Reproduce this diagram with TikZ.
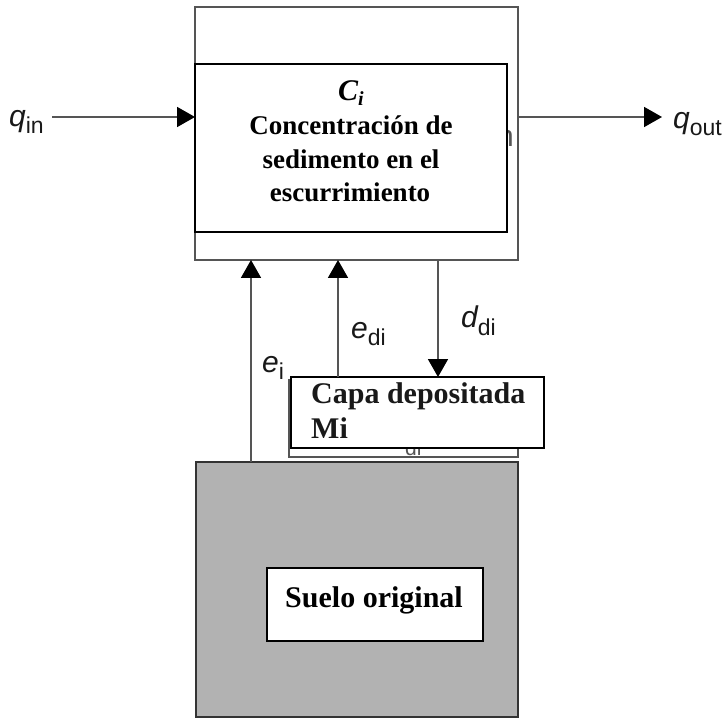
\documentclass[tikz,border=0pt]{standalone}
\usepackage{fontspec}
\setmainfont{Liberation Serif}
\setsansfont{Liberation Sans}
\usetikzlibrary{arrows.meta}
\definecolor{soilgray}{HTML}{B2B2B2}
\definecolor{linegray}{HTML}{555555}
\newcommand{\lbl}[2]{{\sffamily\fontsize{30}{30}\selectfont\itshape #1}{\sffamily\fontsize{23}{23}\selectfont\raisebox{-7pt}{#2}}}
\newcommand{\boxtxt}{\bfseries\fontsize{27}{27}\selectfont}
\newcommand{\bigtxt}{\bfseries\fontsize{30}{30}\selectfont}
\tikzset{
  origbox/.style={draw=linegray, line width=1.8pt, fill=white, inner sep=0pt, outer sep=0pt, anchor=north west},
  overbox/.style={draw=black, line width=1.8pt, fill=white, inner sep=0pt, outer sep=0pt, anchor=north west},
  soilbox/.style={draw=black!80, line width=1.8pt, fill=soilgray, inner sep=0pt, outer sep=0pt, anchor=north west},
  flow/.style={draw=linegray, line width=1.8pt, -{Triangle[length=18pt,width=20pt,color=black]}},
  lab/.style={inner sep=0pt, anchor=base west, text=black!90},
  txt/.style={inner sep=0pt, anchor=base},
}
\begin{document}
\begin{tikzpicture}[x=1pt,y=-1pt]
\useasboundingbox (0,0) rectangle (723,719);

% upper (runoff) box
\node[origbox, minimum width=323pt, minimum height=253pt] (outer) at (195,7) {};
\node[lab, text=linegray] (remn) at (497,147) {\sffamily\fontsize{30}{30}\selectfont n};
\node[overbox, minimum width=312pt, minimum height=168pt] (inner) at (195,64) {};
\node[txt] (ci) at (351,101) {\bfseries\itshape\fontsize{30}{30}\selectfont C\raisebox{-5pt}{\fontsize{20}{20}\selectfont i}};
\node[txt] (t1) at (351,135) {\boxtxt Concentración de};
\node[txt] (t2) at (351,169) {\boxtxt sedimento en el};
\node[txt] (t3) at (350,202) {\boxtxt escurrimiento};

% deposited layer
\node[origbox, minimum width=229pt, minimum height=77pt] (dep) at (289,380) {};
\node[lab, text=linegray] (remdi) at (405,455) {\sffamily\fontsize{21}{21}\selectfont di};
\node[overbox, minimum width=253pt, minimum height=71pt] (capa) at (291,377) {};
\node[lab] (c1) at (311,403) {\bigtxt Capa depositada};
\node[lab] (c2) at (311,438) {\bigtxt Mi};

% original soil
\node[soilbox, minimum width=322pt, minimum height=255pt] (soil) at (196,462) {};
\node[overbox, minimum width=216pt, minimum height=73pt] (suelo) at (267,568) {};
\node[txt] (s1) at (374,607) {\bigtxt Suelo original};

% flows
\coordinate (qinS) at (52,117);
\coordinate (qoutE) at (662,117);
\coordinate (eix) at (251,0);
\coordinate (edix) at (338,0);
\coordinate (ddix) at (438,0);
\draw[flow] (qinS) -- (qinS -| outer.west);
\draw[flow] (qoutE -| outer.east) -- (qoutE);
\draw[flow] (soil.north -| eix) -- (outer.south -| eix);
\draw[flow] (capa.north -| edix) -- (outer.south -| edix);
\draw[flow] (outer.south -| ddix) -- (capa.north -| ddix);

% labels
\node[lab] (lqin) at (9,127) {\lbl{q}{in}};
\node[lab] (lqout) at (673,129) {\lbl{q}{out}};
\node[lab] (lei) at (262,372) {\lbl{e}{i}};
\node[lab] (ledi) at (351,338) {\lbl{e}{di}};
\node[lab] (lddi) at (461,328) {\lbl{d}{di}};
\end{tikzpicture}
\end{document}
